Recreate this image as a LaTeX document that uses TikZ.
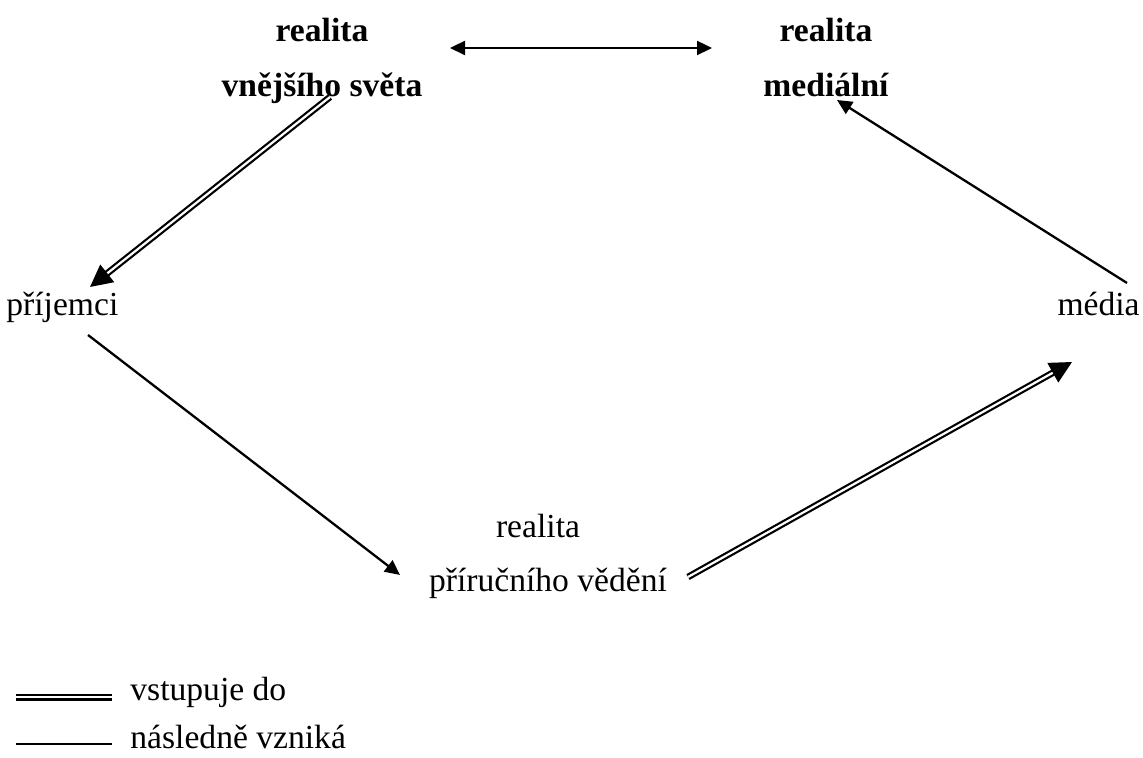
\documentclass[tikz,border=0pt]{standalone}
\usepackage{fontspec}
\setmainfont{Liberation Serif}
\usetikzlibrary{arrows.meta,calc}
\begin{document}
\begin{tikzpicture}[x=0.5pt,y=-0.5pt,
  lbl/.style={inner sep=0pt,font=\fontsize{16.8}{20}\selectfont},
  blbl/.style={lbl,font=\fontsize{16.8}{20}\selectfont\bfseries},
  thinarrow/.style={line width=1.15pt,-{Triangle[length=7.5pt,width=7pt]}},
  thinboth/.style={line width=1.15pt,{Triangle[length=7.5pt,width=7pt]}-{Triangle[length=7.5pt,width=7pt]}},
  dblarrow/.style={double,line width=1.1pt,double distance=1.1pt,-{Triangle[length=11pt,width=11pt]}},
  dblline/.style={double,line width=1.1pt,double distance=1.3pt},
  sline/.style={line width=1.15pt}]
\path[use as bounding box] (0,0) rectangle (1143,758);
\node[blbl,anchor=base] (rw1) at (322,42) {realita};
\node[blbl,anchor=base] (vs) at (322,97) {vnějšího světa};
\node[blbl,anchor=base] (rm1) at (826,42) {realita};
\node[blbl,anchor=base] (ml) at (826,97) {mediální};
\node[lbl,anchor=base west] (pr) at (6,316) {příjemci};
\node[lbl,anchor=base east] (md) at (1140,316) {média};
\node[lbl,anchor=base] (rp1) at (538,537) {realita};
\node[lbl,anchor=base] (rp2) at (548,591) {příručního vědění};
\node[lbl,anchor=base west] (lg1) at (130,700) {vstupuje do};
\node[lbl,anchor=base west] (lg2) at (130,748) {následně vzniká};
% connectors
\draw[thinboth] ($(rw1.base)+(128,6)$) -- ($(rm1.base)+(-114,6)$);
\draw[dblarrow] ($(vs.base)+(8,0)$) -- ($(pr.base west)+(84,-29)$);
\draw[thinarrow] ($(pr.base west)+(82,19)$) -- ($(rp2.base)+(-148,-16)$);
\draw[dblarrow] ($(rp2.base)+(140,-14)$) -- ($(md.base east)+(-68,46)$);
\draw[thinarrow] ($(md.base east)+(-13,-33)$) -- ($(ml.base)+(11,3)$);
% legend
\draw[dblline] ($(lg1.base west)+(-114,-3)$) -- ($(lg1.base west)+(-18,-3)$);
\draw[sline] ($(lg2.base west)+(-114,-4)$) -- ($(lg2.base west)+(-18,-4)$);
\end{tikzpicture}
\end{document}
